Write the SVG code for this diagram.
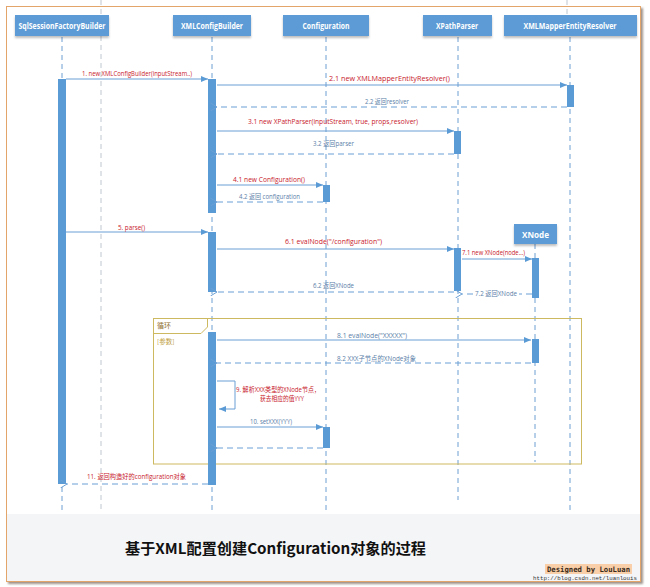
<svg xmlns="http://www.w3.org/2000/svg" width="650" height="587" viewBox="0 0 650 587">
<defs>
<style>
.hd{fill:#5b9bd5}
.ht{font-family:"Open Sans","Liberation Sans",sans-serif;font-weight:bold;font-size:8.5px;fill:#fff;text-anchor:middle}
.ll{stroke:#6f9fd2;stroke-width:1;stroke-dasharray:5,4;fill:none}
.gl{stroke:#bfc8d2;stroke-width:1;stroke-dasharray:5,4;fill:none}
.act{fill:#5b9bd5}
.msg{stroke:#6a9fd4;stroke-width:1;fill:none}
.ret{stroke:#6a9fd4;stroke-width:1;stroke-dasharray:6,4;fill:none}
.r{font-family:"Open Sans","Liberation Sans","Noto Sans CJK SC",sans-serif;fill:#c8202c}
.g{font-family:"Open Sans","Liberation Sans","Noto Sans CJK SC",sans-serif;fill:#5a7ea8}
</style>
<marker id="sa" markerWidth="8" markerHeight="8" refX="7" refY="3" orient="auto" markerUnits="userSpaceOnUse"><path d="M0,0 L7,3 L0,6 Z" fill="#5b9bd5"/></marker>
<marker id="oa" markerWidth="10" markerHeight="10" refX="0.5" refY="4" orient="auto-start-reverse" markerUnits="userSpaceOnUse"><path d="M7,0 L0.5,4 L7,8" fill="none" stroke="#6a9fd4" stroke-width="1"/></marker>
<filter id="sh" x="-10%" y="-10%" width="130%" height="160%"><feDropShadow dx="0" dy="2" stdDeviation="1.2" flood-color="#000" flood-opacity="0.25"/></filter>
<filter id="fsh" x="-5%" y="-5%" width="110%" height="110%"><feDropShadow dx="2" dy="2" stdDeviation="1.2" flood-color="#5a4a3a" flood-opacity="0.6"/></filter>
</defs>
<rect width="650" height="587" fill="#fff"/>
<g id="frame">
<rect x="6.5" y="6.5" width="634" height="575" fill="#fff" stroke="#e3a569" stroke-width="1" filter="url(#fsh)"/>
<rect x="7" y="514" width="633" height="67" fill="#f4f5f7"/>
</g>
<g id="guides">
<line class="gl" x1="101" y1="0" x2="101" y2="512"/>
<line class="gl" x1="567" y1="0" x2="567" y2="15"/>
</g>
<g id="lifelines">
<line class="ll" x1="62" y1="37" x2="62" y2="512"/>
<line class="ll" x1="212" y1="37" x2="212" y2="512"/>
<line class="ll" x1="326" y1="37" x2="326" y2="512"/>
<line class="ll" x1="458" y1="37" x2="458" y2="500"/>
<line class="ll" x1="570" y1="37" x2="570" y2="512"/>
<line class="ll" x1="535" y1="244" x2="535" y2="462"/>
</g>
<g id="loop">
<rect x="153.5" y="318.5" width="428" height="145.5" fill="none" stroke="#cdb960" stroke-width="1"/>
<path d="M153.5,333.5 L201,333.5 L207.5,327 L207.5,318.5" fill="none" stroke="#cdb960" stroke-width="1"/>
<text x="157" y="328" font-family="'Noto Sans CJK SC',sans-serif" font-size="7" fill="#8c6d1f">循环</text>
<text x="157" y="344" font-family="'Noto Sans CJK SC',sans-serif" font-size="6.5" fill="#c0a040">[参数]</text>
</g>
<g id="SqlSessionFactoryBuilder">
<rect class="hd" x="15" y="15" width="94" height="21" filter="url(#sh)"/>
<text class="ht" x="62" y="28.5" textLength="87" lengthAdjust="spacingAndGlyphs">SqlSessionFactoryBuilder</text>
<rect class="act" x="58" y="79" width="8" height="405"/>
</g>
<g id="XMLConfigBuilder">
<rect class="hd" x="173" y="15" width="78" height="21" filter="url(#sh)"/>
<text class="ht" x="212" y="28.5" textLength="62" lengthAdjust="spacingAndGlyphs">XMLConfigBuilder</text>
<rect class="act" x="208" y="79" width="8" height="134"/>
<rect class="act" x="208" y="232" width="8" height="60"/>
<rect class="act" x="208" y="332" width="8" height="153"/>
</g>
<g id="Configuration">
<rect class="hd" x="283" y="15" width="86" height="21" filter="url(#sh)"/>
<text class="ht" x="326" y="28.5" textLength="47" lengthAdjust="spacingAndGlyphs">Configuration</text>
<rect class="act" x="323" y="185" width="7" height="17"/>
<rect class="act" x="323" y="427" width="7" height="21"/>
</g>
<g id="XPathParser">
<rect class="hd" x="423" y="15" width="69" height="21" filter="url(#sh)"/>
<text class="ht" x="457" y="28.5" textLength="42" lengthAdjust="spacingAndGlyphs">XPathParser</text>
<rect class="act" x="454" y="131" width="7" height="23"/>
<rect class="act" x="454" y="248" width="7" height="43"/>
</g>
<g id="XMLMapperEntityResolver">
<rect class="hd" x="504" y="15" width="133" height="21" filter="url(#sh)"/>
<text class="ht" x="570" y="28.5" textLength="93" lengthAdjust="spacingAndGlyphs">XMLMapperEntityResolver</text>
<rect class="act" x="567" y="85" width="7" height="22"/>
</g>
<g id="XNode">
<rect class="hd" x="514" y="224" width="43" height="20" filter="url(#sh)"/>
<text class="ht" x="535.5" y="237.5" font-size="10" textLength="27" lengthAdjust="spacingAndGlyphs">XNode</text>
<rect class="act" x="532" y="258" width="7" height="40"/>
<rect class="act" x="532" y="339" width="7" height="24"/>
</g>
<g id="connectors">
<line class="msg" x1="66" y1="79" x2="208" y2="79" marker-end="url(#sa)"/>
<line class="msg" x1="217" y1="85" x2="567" y2="85" marker-end="url(#sa)"/>
<line class="ret" x1="567" y1="107" x2="217" y2="107" marker-end="url(#oa)"/>
<line class="msg" x1="217" y1="131" x2="454" y2="131" marker-end="url(#sa)"/>
<line class="ret" x1="454" y1="154" x2="217" y2="154" marker-end="url(#oa)"/>
<line class="msg" x1="217" y1="185" x2="323" y2="185" marker-end="url(#sa)"/>
<line class="ret" x1="323" y1="202" x2="217" y2="202" marker-end="url(#oa)"/>
<line class="msg" x1="66" y1="232" x2="208" y2="232" marker-end="url(#sa)"/>
<line class="msg" x1="217" y1="249" x2="454" y2="249" marker-end="url(#sa)"/>
<line class="msg" x1="462" y1="259" x2="532" y2="259" marker-end="url(#sa)"/>
<line class="ret" x1="532" y1="294" x2="519" y2="294"/>
<line class="ret" x1="473" y1="294" x2="462" y2="294" marker-end="url(#oa)"/>
<line class="ret" x1="454" y1="292" x2="217" y2="292" marker-end="url(#oa)"/>
<line class="msg" x1="217" y1="340" x2="531" y2="340" marker-end="url(#sa)"/>
<line class="ret" x1="531" y1="363" x2="217" y2="363" marker-end="url(#oa)"/>
<polyline class="msg" points="217,381 235,381 235,409 219,409" marker-end="url(#sa)"/>
<line class="msg" x1="217" y1="427" x2="323" y2="427" marker-end="url(#sa)"/>
<line class="ret" x1="323" y1="448" x2="217" y2="448" marker-end="url(#oa)"/>
<line class="ret" x1="208" y1="484" x2="67" y2="484" marker-end="url(#oa)"/>
</g>
<g id="labels">
<text class="r" x="82" y="76" font-size="6.5" textLength="110" lengthAdjust="spacingAndGlyphs">1. new XMLConfigBuilder(inputStream..)</text>
<text class="r" x="329" y="81" font-size="8" textLength="121" lengthAdjust="spacingAndGlyphs">2.1 new XMLMapperEntityResolver()</text>
<text class="g" x="365" y="104" font-size="6.5" textLength="44" lengthAdjust="spacingAndGlyphs">2.2 返回resolver</text>
<text class="r" x="248" y="124" font-size="7.5" textLength="170" lengthAdjust="spacingAndGlyphs">3.1 new XPathParser(inputStream, true, props,resolver)</text>
<text class="g" x="313" y="145.5" font-size="6.5" textLength="41" lengthAdjust="spacingAndGlyphs">3.2  返回parser</text>
<text class="r" x="233" y="182" font-size="7.5" textLength="72" lengthAdjust="spacingAndGlyphs">4.1 new Configuration()</text>
<text class="g" x="239" y="198.5" font-size="6.5" textLength="61" lengthAdjust="spacingAndGlyphs">4.2 返回 configuration</text>
<text class="r" x="118" y="229.5" font-size="6.5" textLength="27" lengthAdjust="spacingAndGlyphs">5. parse()</text>
<text class="r" x="285" y="244" font-size="8" textLength="97" lengthAdjust="spacingAndGlyphs">6.1  evalNode("/configuration")</text>
<text class="r" x="462" y="254.5" font-size="6.5" textLength="63" lengthAdjust="spacingAndGlyphs">7.1 new XNode(node...)</text>
<text class="g" x="313" y="287.5" font-size="6.5" textLength="41" lengthAdjust="spacingAndGlyphs">6.2 返回XNode</text>
<text class="g" x="475" y="296" font-size="6.5" textLength="42" lengthAdjust="spacingAndGlyphs">7.2 返回XNode</text>
<text class="g" x="337" y="337.5" font-size="7.5" textLength="70" lengthAdjust="spacingAndGlyphs">8.1 evalNode("XXXXX")</text>
<text class="g" x="337" y="360.5" font-size="6.5" textLength="79" lengthAdjust="spacingAndGlyphs">8.2 XXX子节点的XNode对象</text>
<text class="r" x="236" y="391.5" font-size="6.5" textLength="84" lengthAdjust="spacingAndGlyphs">9. 解析XXX类型的XNode节点，</text>
<text class="r" x="260" y="400.5" font-size="6.5" textLength="44" lengthAdjust="spacingAndGlyphs">获去相应的值YYY</text>
<text class="g" x="250" y="423.5" font-size="6.5" textLength="42" lengthAdjust="spacingAndGlyphs">10. setXXX(YYY)</text>
<text class="r" x="87" y="478.5" font-size="6.5" textLength="99" lengthAdjust="spacingAndGlyphs">11. 返回构造好的configuration对象</text>
</g>
<g id="caption">
<text x="125" y="554" font-family="'Noto Sans CJK SC',sans-serif" font-weight="bold" font-size="15" fill="#111" textLength="301" lengthAdjust="spacingAndGlyphs">基于XML配置创建Configuration对象的过程</text>
<rect x="545" y="564" width="87" height="10" fill="#f8cfa8"/>
<text x="547" y="572" font-family="'DejaVu Sans Mono','Liberation Mono',monospace" font-weight="bold" font-size="7.5" fill="#3a2a1a" textLength="83" lengthAdjust="spacingAndGlyphs">Designed by LouLuan</text>
<text x="533" y="580" font-family="'Liberation Mono','DejaVu Sans Mono',monospace" font-size="6" fill="#333" textLength="104" lengthAdjust="spacingAndGlyphs">http://blog.csdn.net/luanlouis</text>
</g>
</svg>
